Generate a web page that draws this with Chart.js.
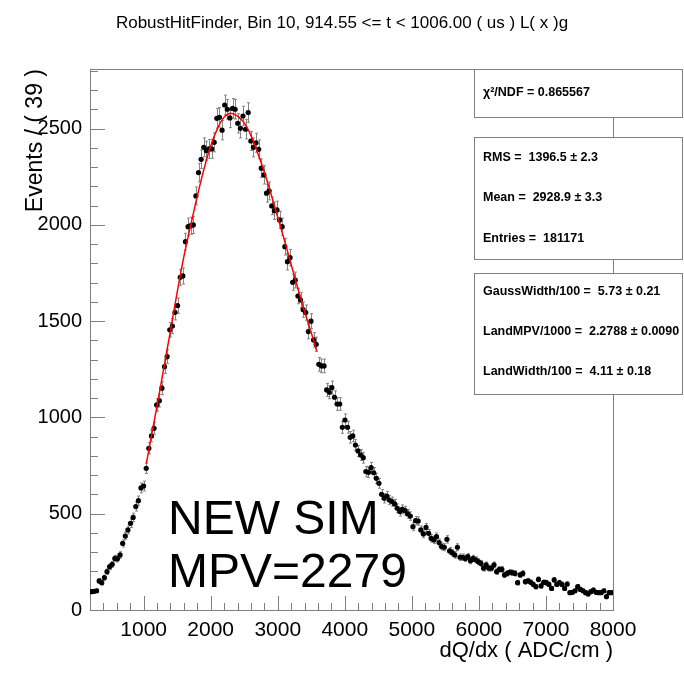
<!DOCTYPE html>
<html>
<head>
<meta charset="utf-8">
<title>dQ/dx Landau fit</title>
<script src="https://cdn.jsdelivr.net/npm/chart.js@4.4.1/dist/chart.umd.min.js"></script>
<style>
    html, body { margin: 0; padding: 0; background: #fff; }
    #wrap { width: 684px; height: 676px; }
</style>
</head>
<body>
<div id="wrap"><canvas id="chart" width="684" height="676"></canvas></div>
<script>
// histogram binning (Events / ( 39 ))
const X_MIN = 200;
const X_MAX = 8000;
const BIN_WIDTH = 39;
const Y_MAX = 2810;

const X_TICKS = [1000, 2000, 3000, 4000, 5000, 6000, 7000, 8000];
const Y_TICKS = [0, 500, 1000, 1500, 2000, 2500];

// bin contents
const COUNTS = [
    95, 97, 100, 151, 142, 168, 199, 225, 237, 268,
    266, 286, 346, 384, 416, 450, 481, 537, 568, 634,
    644, 736, 840, 904, 944, 1065, 1087, 1152, 1264, 1316,
    1455, 1475, 1546, 1581, 1728, 1735, 1913, 1991, 1996, 2000,
    2151, 2272, 2341, 2403, 2386, 2395, 2395, 2429, 2554, 2559,
    2492, 2623, 2601, 2556, 2605, 2601, 2528, 2502, 2566, 2497,
    2584, 2436, 2403, 2427, 2393, 2295, 2260, 2165, 2177, 2099,
    2074, 2078, 2026, 1991, 1887, 1809, 1830, 1702, 1714, 1631,
    1610, 1560, 1545, 1446, 1500, 1403, 1380, 1276, 1268, 1268,
    1143, 1131, 1155, 1105, 1070, 1070, 949, 987, 949, 897,
    904, 857, 826, 805, 791, 719, 715, 739, 713, 684,
    658, 601, 580, 592, 571, 563, 551, 528, 511, 523,
    516, 499, 488, 433, 464, 462, 416, 395, 429, 398,
    372, 364, 381, 350, 329, 326, 367, 307, 298, 286,
    326, 274, 274, 268, 277, 256, 268, 260, 251, 242,
    217, 234, 217, 217, 234, 199, 211, 211, 182, 190,
    196, 194, 190, 142, 182, 190, 147, 152, 144, 133,
    121, 159, 125, 144, 142, 133, 112, 156, 133, 142,
    133, 112, 135, 90, 92, 100, 121, 107, 100, 90,
    83, 95, 104, 92, 90, 90, 100, 69, 90, 90
];

// Landau (x) Gauss fit curve
const FIT_X = [1040, 1100, 1200, 1300, 1400, 1500, 1600, 1700, 1800, 1900,
    2000, 2100, 2200, 2300, 2400, 2500, 2600, 2700, 2800, 2900,
    3000, 3100, 3200, 3300, 3400, 3500, 3580];
const FIT_Y = [760, 875, 1060, 1255, 1450, 1650, 1835, 1995, 2150, 2290,
    2410, 2500, 2560, 2580, 2565, 2530, 2465, 2375, 2275, 2160,
    2040, 1920, 1795, 1670, 1550, 1440, 1345];

const TITLE = "RobustHitFinder, Bin 10, 914.55 <= t < 1006.00 ( us ) L( x )g";
const STATS_FIT = ["χ²/NDF = 0.865567"];
const STATS_HIST = ["RMS =  1396.5 ± 2.3", "Mean =  2928.9 ± 3.3", "Entries =  181171"];
const STATS_PARS = ["GaussWidth/100 =  5.73 ± 0.21", "LandMPV/1000 =  2.2788 ± 0.0090", "LandWidth/100 =  4.11 ± 0.18"];
const NOTE_LINES = ["NEW SIM", "MPV=2279"];

const FONT = "'Liberation Sans', Arial, sans-serif";
Chart.defaults.font.family = FONT;
Chart.defaults.color = "#000";

const histPoints = COUNTS.map((c, i) => ({ x: X_MIN + BIN_WIDTH * (i + 0.5), y: c }));
const fitPoints = FIT_X.map((x, i) => ({ x: x, y: FIT_Y[i] }));

// frame + inward ticks, ROOT style
const rootFrame = {
    id: "rootFrame",
    beforeDatasetsDraw(chart) {
        const { ctx, chartArea: a, scales: { x, y } } = chart;
        ctx.save();
        ctx.strokeStyle = "#7f7f7f";
        ctx.lineWidth = 1;
        ctx.strokeRect(Math.round(a.left) + 0.5, Math.round(a.top) + 0.5,
            Math.round(a.right - a.left), Math.round(a.bottom - a.top));
        ctx.beginPath();
        for (let v = X_MIN; v <= X_MAX; v += 200) {
            const px = Math.round(x.getPixelForValue(v)) + 0.5;
            const len = v % 1000 === 0 ? 14 : 7;
            ctx.moveTo(px, a.bottom);
            ctx.lineTo(px, a.bottom - len);
        }
        for (let v = 100; v <= Y_MAX; v += 100) {
            const py = Math.round(y.getPixelForValue(v)) + 0.5;
            const len = v % 500 === 0 ? 15 : 8;
            ctx.moveTo(a.left, py);
            ctx.lineTo(a.left + len, py);
        }
        ctx.stroke();
        ctx.restore();
    }
};

// poisson error bars on each bin
const errorBars = {
    id: "errorBars",
    beforeDatasetsDraw(chart) {
        const { ctx, scales: { x, y } } = chart;
        const ds = chart.data.datasets.find(d => d.label === "data");
        ctx.save();
        ctx.strokeStyle = "#858585";
        ctx.lineWidth = 1;
        ctx.beginPath();
        ds.data.forEach(p => {
            const err = Math.sqrt(p.y);
            const px = Math.round(x.getPixelForValue(p.x)) + 0.5;
            const top = y.getPixelForValue(p.y + err);
            const bot = y.getPixelForValue(p.y - err);
            ctx.moveTo(px, top); ctx.lineTo(px, bot);
            ctx.moveTo(px - 1.5, top); ctx.lineTo(px + 1.5, top);
            ctx.moveTo(px - 1.5, bot); ctx.lineTo(px + 1.5, bot);
        });
        ctx.stroke();
        ctx.restore();
    }
};

function drawStatBox(ctx, top, bottom, lines, ys) {
    const left = 474, right = 683;
    ctx.fillStyle = "#fff";
    ctx.fillRect(left, top, right - left, bottom - top);
    ctx.strokeStyle = "#7f7f7f";
    ctx.strokeRect(left + 0.5, top + 0.5, right - left - 1, bottom - top);
    ctx.fillStyle = "#000";
    ctx.font = "bold 12.5px " + FONT;
    ctx.textBaseline = "middle";
    ctx.textAlign = "left";
    lines.forEach((t, i) => ctx.fillText(t, 483, ys[i]));
}

// stats boxes and the big label
const overlays = {
    id: "overlays",
    afterDatasetsDraw(chart) {
        const ctx = chart.ctx;
        ctx.save();
        drawStatBox(ctx, 69, 117, STATS_FIT, [93]);
        drawStatBox(ctx, 137, 259, STATS_HIST, [158, 198, 239]);
        drawStatBox(ctx, 273, 394, STATS_PARS, [292, 332, 372]);

        ctx.fillStyle = "#000";
        ctx.font = "48px " + FONT;
        ctx.textBaseline = "alphabetic";
        ctx.fillText(NOTE_LINES[0], 168, 534);
        ctx.fillText(NOTE_LINES[1], 168, 587);
        ctx.restore();
    }
};

const plainNumber = (v) => String(v);

new Chart(document.getElementById("chart"), {
    type: "scatter",
    data: {
        datasets: [{
            label: "fit",
            data: fitPoints,
            showLine: true,
            borderColor: "#ff0000",
            borderWidth: 1.5,
            pointRadius: 0,
            cubicInterpolationMode: "monotone",
            fill: false,
        }, {
            label: "data",
            data: histPoints,
            pointRadius: 2.6,
            pointBackgroundColor: "#000",
            pointBorderWidth: 0,
        }]
    },
    options: {
        responsive: false,
        animation: false,
        events: [],
        layout: { padding: 0 },
        plugins: {
            legend: { display: false },
            tooltip: { enabled: false },
            title: {
                display: true,
                text: TITLE,
                color: "#000",
                font: { size: 17, weight: "normal" },
                padding: { top: 13, bottom: 35.6 },
            },
        },
        scales: {
            x: {
                type: "linear",
                min: X_MIN, max: X_MAX,
                afterBuildTicks: (s) => { s.ticks = X_TICKS.map(v => ({ value: v })); },
                afterFit: (s) => { s.height = 66; },
                grid: { display: false, drawTicks: false },
                border: { display: false },
                ticks: { font: { size: 21 }, padding: 8, maxRotation: 0, autoSkip: false, callback: plainNumber },
                title: {
                    display: true, text: "dQ/dx ( ADC/cm )", align: "end",
                    font: { size: 22 }, padding: { top: 0, bottom: 12 },
                },
            },
            y: {
                type: "linear",
                min: 0, max: Y_MAX,
                afterBuildTicks: (s) => { s.ticks = Y_TICKS.map(v => ({ value: v })); },
                afterFit: (s) => { s.width = 90; },
                grid: { display: false, drawTicks: false },
                border: { display: false },
                ticks: { font: { size: 20 }, padding: 8, callback: plainNumber },
                title: {
                    display: true, text: "Events / ( 39 )", align: "end",
                    font: { size: 23 }, padding: { top: 22, bottom: 0 },
                },
            },
            yRight: {
                position: "right",
                afterFit: (s) => { s.width = 71; },
                grid: { display: false, drawTicks: false },
                border: { display: false },
                ticks: { display: false },
            },
        },
    },
    plugins: [rootFrame, errorBars, overlays],
});
</script>
</body>
</html>
